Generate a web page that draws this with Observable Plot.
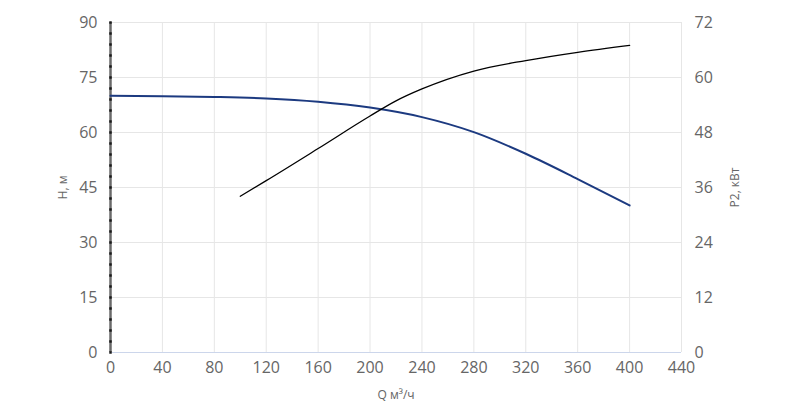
<!DOCTYPE html>
<html>
<head>
<meta charset="utf-8">
<script src="https://cdn.jsdelivr.net/npm/d3@7"></script>
<script src="https://cdn.jsdelivr.net/npm/@observablehq/plot@0.6"></script>
<style>
html,body{margin:0;padding:0;background:#fff;}
#chart{width:800px;height:408px;}
</style>
</head>
<body>
<div id="chart"></div>
<script>
const qH = [0, 40, 80, 120, 160, 200, 240, 280, 320, 360, 400];
const hValues = [70, 69.9, 69.7, 69.3, 68.4, 66.8, 64.2, 60.1, 54.2, 47.3, 40.1];
const qP = [100, 120, 160, 200, 220, 240, 280, 320, 360, 400];
const pValues = [34.1, 37.5, 44.5, 51.6, 54.9, 57.5, 61.4, 63.7, 65.5, 67.0];
const xTicks = [0, 40, 80, 120, 160, 200, 240, 280, 320, 360, 400, 440];
const yTicksH = [0, 15, 30, 45, 60, 75, 90];
const yTicksP = [0, 12, 24, 36, 48, 60, 72];
const minorTicksH = d3.range(0, 91, 3);

const pToH = 90 / 72;
const hData = qH.map((q, i) => ({q, v: hValues[i]}));
const pData = qP.map((q, i) => ({q, v: pValues[i] * pToH}));

const font = "Open Sans, sans-serif";
const chart = Plot.plot({
  width: 800,
  height: 408,
  marginLeft: 110,
  marginRight: 119,
  marginTop: 22,
  marginBottom: 56,
  style: {fontFamily: font, background: "#fff"},
  x: {type: "linear", domain: [0, 440]},
  y: {type: "linear", domain: [0, 90]},
  marks: [
    Plot.ruleX(xTicks, {stroke: "#e6e6e6", strokeWidth: 1}),
    Plot.ruleY(yTicksH.filter(d => d > 0), {stroke: "#e6e6e6", strokeWidth: 1}),
    Plot.ruleY([0], {stroke: "#ccd6eb", strokeWidth: 1}),
    Plot.ruleX([0], {stroke: "#6a6a6a", strokeWidth: 2.5}),
    Plot.dot(minorTicksH, {x: () => 0, y: d => d, r: 1.4, symbol: "square", fill: "#1a1a1a", stroke: null}),
    Plot.axisX({ticks: xTicks, tickSize: 0, tickPadding: 9, fontSize: 16, color: "#666", label: null, tickFormat: d => d}),
    Plot.axisY({ticks: yTicksH, tickSize: 0, tickPadding: 13, fontSize: 16, color: "#666", label: null}),
    Plot.axisY({anchor: "right", ticks: yTicksP.map(d => d * pToH), tickFormat: d => Math.round(d / pToH), tickSize: 0, tickPadding: 13, fontSize: 16, color: "#666", label: null}),
    Plot.line(hData, {x: "q", y: "v", stroke: "#1c3a80", strokeWidth: 2, curve: "monotone-x"}),
    Plot.line(pData, {x: "q", y: "v", stroke: "#000", strokeWidth: 1.3, curve: "monotone-x"}),
    Plot.text(["H, м"], {frameAnchor: "left", dx: -47, rotate: -90, fontSize: 12, fill: "#666", textAnchor: "middle"}),
    Plot.text(["P2, кВт"], {frameAnchor: "right", dx: 54, rotate: -90, fontSize: 12, fill: "#666", textAnchor: "middle"}),
    Plot.text(["Q м³/ч"], {frameAnchor: "bottom", dy: 46, fontSize: 12, fill: "#666"})
  ]
});
document.getElementById("chart").appendChild(chart);
</script>
</body>
</html>
